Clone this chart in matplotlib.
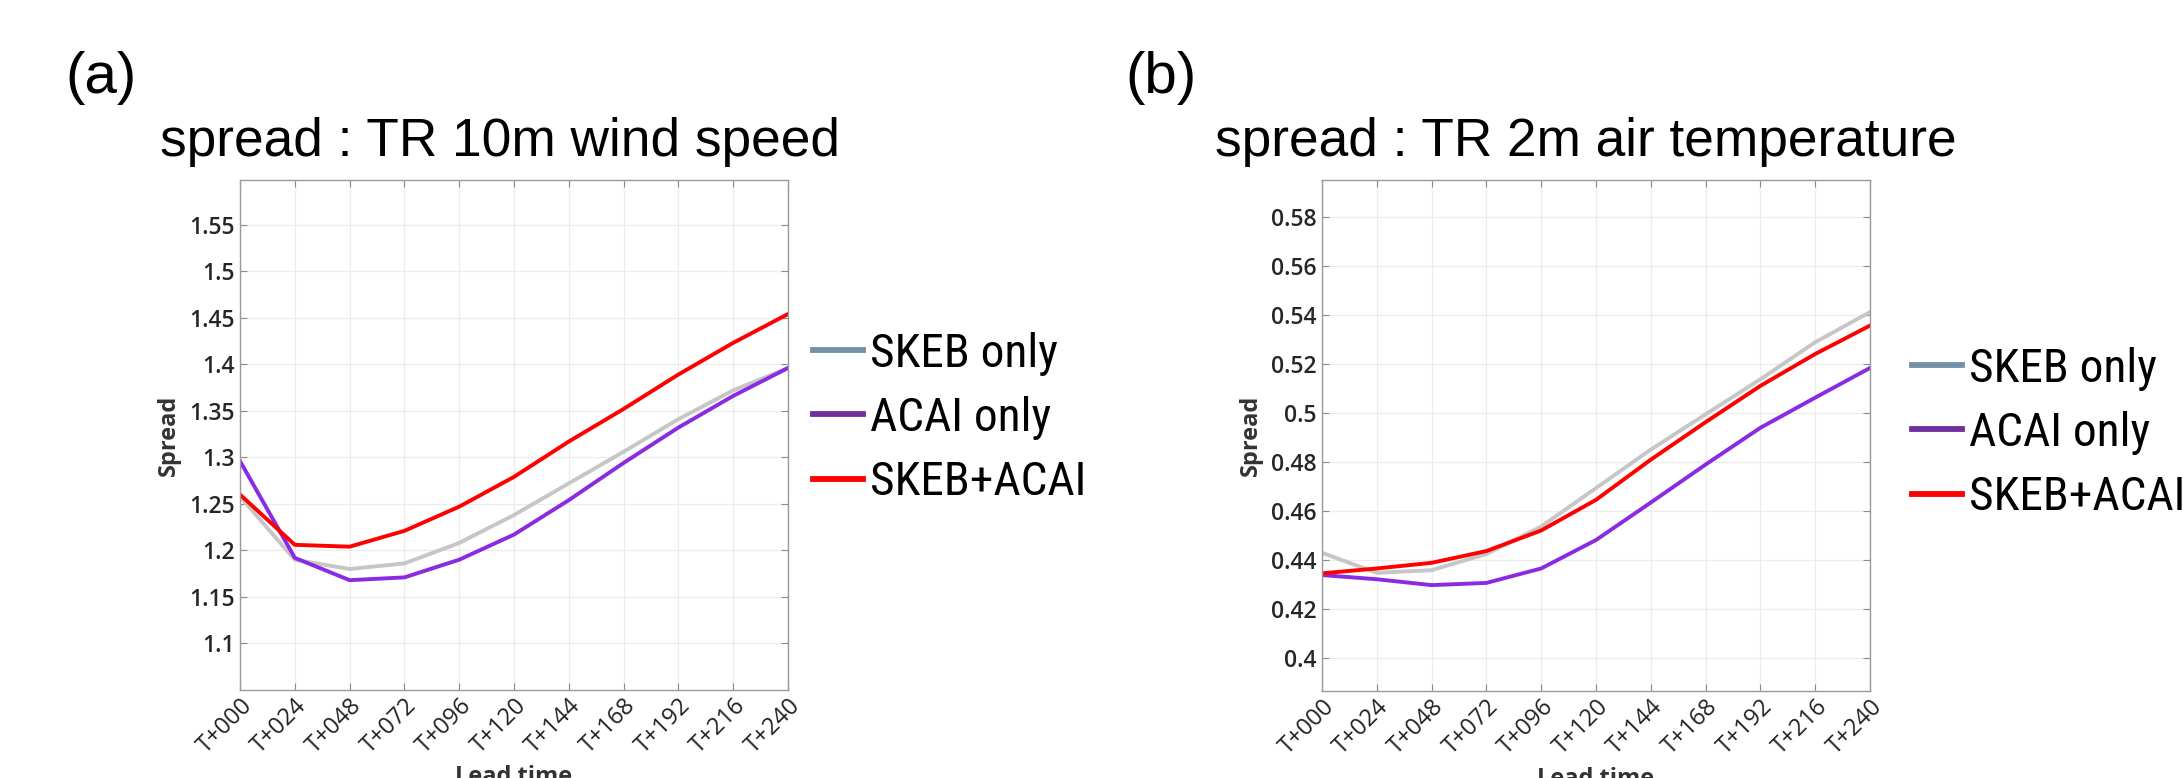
import matplotlib
matplotlib.use("Agg")
import matplotlib.pyplot as plt
from matplotlib.lines import Line2D
from matplotlib import font_manager as fm

# ---------------- data ----------------
lead_labels = ["T+000", "T+024", "T+048", "T+072", "T+096", "T+120",
               "T+144", "T+168", "T+192", "T+216", "T+240"]

wind_skeb = [1.258, 1.190, 1.180, 1.186, 1.208, 1.238, 1.272, 1.306, 1.341, 1.372, 1.396]
wind_acai = [1.296, 1.192, 1.168, 1.171, 1.190, 1.217, 1.254, 1.294, 1.332, 1.366, 1.396]
wind_both = [1.260, 1.206, 1.204, 1.221, 1.247, 1.279, 1.317, 1.352, 1.389, 1.423, 1.454]

t2m_skeb = [0.4429, 0.4347, 0.4358, 0.4424, 0.4536, 0.4693, 0.4850, 0.4994, 0.5137, 0.5288, 0.5411]
t2m_acai = [0.4338, 0.4321, 0.4297, 0.4306, 0.4365, 0.4481, 0.4634, 0.4789, 0.4939, 0.5062, 0.5183]
t2m_both = [0.4345, 0.4365, 0.4388, 0.4436, 0.4520, 0.4645, 0.4809, 0.4962, 0.5110, 0.5240, 0.5356]

wind_yticks = [1.1, 1.15, 1.2, 1.25, 1.3, 1.35, 1.4, 1.45, 1.5, 1.55]
wind_ylabels = ["1.1", "1.15", "1.2", "1.25", "1.3", "1.35", "1.4", "1.45", "1.5", "1.55"]
t2m_yticks = [0.4, 0.42, 0.44, 0.46, 0.48, 0.5, 0.52, 0.54, 0.56, 0.58]
t2m_ylabels = ["0.4", "0.42", "0.44", "0.46", "0.48", "0.5", "0.52", "0.54", "0.56", "0.58"]

series_names = ["SKEB only", "ACAI only", "SKEB+ACAI"]
titles = ["spread : TR 10m wind speed", "spread : TR 2m air temperature"]
panel_labels = ["(a)", "(b)"]

# ---------------- style ----------------
line_colors = ["#c6c6c6", "#8a2be2", "#ff0000"]
legend_colors = ["#7490a8", "#7030a0", "#ff0000"]

# pick a narrow font for the legend if one is installed
fonts = fm.fontManager.ttflist
names = {f.name for f in fonts}
legend_prop = None
for cand in ["Liberation Sans Narrow", "Arial Narrow", "Roboto Condensed",
             "Open Sans Condensed", "Noto Sans Condensed", "Noto Sans Display Condensed",
             "DejaVu Sans Condensed"]:
    if cand in names:
        legend_prop = fm.FontProperties(family=cand, size=34)
        break
if legend_prop is None:
    cond = [f for f in fonts
            if str(f.stretch) in ("condensed", "semi-condensed", "extra-condensed",
                                  "ultra-condensed", "75", "87.5", "62.5")
            and str(f.weight) in ("400", "normal", "regular", "book")]
    if cond:
        legend_prop = fm.FontProperties(fname=cond[0].fname, size=34)
    else:
        legend_prop = fm.FontProperties(family="Liberation Sans", size=30)

big_font = ["Liberation Sans", "DejaVu Sans"]
tick_font = ["Open Sans", "DejaVu Sans"]

fig = plt.figure(figsize=(21.83, 7.78), dpi=100)

axes_pos = [[240 / 2183, 1 - 690 / 778, 548 / 2183, 510 / 778],
            [1322 / 2183, 1 - 691 / 778, 548 / 2183, 511 / 778]]
ylims = [(1.05, 1.598), (0.3865, 0.595)]
yticks = [wind_yticks, t2m_yticks]
ylabels = [wind_ylabels, t2m_ylabels]
data = [[wind_skeb, wind_acai, wind_both], [t2m_skeb, t2m_acai, t2m_both]]
title_x = [160 / 2183, 1215 / 2183]
plabel_x = [65 / 2183, 1125 / 2183]
legend_anchor = [(813 / 2183, 1 - 418 / 778), (1912 / 2183, 1 - 433 / 778)]

x = list(range(len(lead_labels)))

for i in range(2):
    ax = fig.add_axes(axes_pos[i])
    for s in range(3):
        ax.plot(x, data[i][s], color=line_colors[s], lw=2.8, solid_joinstyle="round")
    ax.set_xlim(0, len(x) - 1)
    ax.set_ylim(*ylims[i])
    ax.set_xticks(x)
    ax.set_xticklabels(lead_labels, rotation=45, ha="right", va="top",
                       rotation_mode="anchor", fontsize=17, family=tick_font,
                       color="#222222")
    ax.set_yticks(yticks[i])
    ax.set_yticklabels(ylabels[i], fontsize=16.5, family=tick_font,
                       fontweight="semibold", color="#262626")
    ax.grid(True, color="#ececec", lw=0.9)
    ax.set_axisbelow(True)
    ax.tick_params(direction="in", length=5, width=0.8, color="#8c8c8c",
                   top=True, right=True)
    ax.tick_params(axis="y", pad=4)
    ax.tick_params(axis="x", pad=3)
    for sp in ax.spines.values():
        sp.set_color("#9a9a9a")
        sp.set_linewidth(1.0)
    ax.set_ylabel("Spread", fontsize=17, family=tick_font, fontweight="bold",
                  color="#333333")
    ax.yaxis.set_label_coords(-0.107, 0.5)
    ax.set_xlabel("Lead time", fontsize=17, family=tick_font, fontweight="bold",
                  color="#333333")
    ax.xaxis.set_label_coords(0.5, -0.148)

    fig.text(title_x[i], 1 - 156 / 778, titles[i], fontsize=38.3,
             family=big_font, ha="left", va="baseline", color="black")
    fig.text(plabel_x[i], 1 - 78 / 778, panel_labels[i], fontsize=42,
             family=big_font, ha="left", va="center", color="black")

    handles = [Line2D([], [], color=legend_colors[s], lw=4.2) for s in range(3)]
    fig.legend(handles, series_names, loc="center left",
               bbox_to_anchor=legend_anchor[i], frameon=False,
               prop=legend_prop,
               handlelength=1.06, handletextpad=0.14, labelspacing=0.43,
               borderaxespad=0, borderpad=0)

fig.savefig("out.png", dpi=100)
